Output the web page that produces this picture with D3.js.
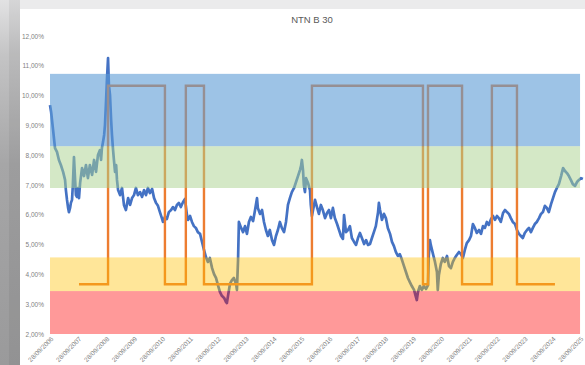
<!DOCTYPE html>
<html>
<head>
<meta charset="utf-8">
<script src="https://cdn.jsdelivr.net/npm/d3@7"></script>
<style>
  html, body { margin: 0; padding: 0; background: #fff; }
  svg { display: block; }
  text { font-family: "Liberation Sans", Arial, sans-serif; }
</style>
</head>
<body>
<svg id="chart" width="585" height="365"></svg>
<script>
// NTN-B 2030 real yield, decimal year vs percent
const rateYears = [
  2006.74,2006.78,2006.85,2006.92,2006.99,2007.06,2007.13,2007.21,2007.28,2007.31,2007.35,2007.39,2007.42,2007.46,2007.49,2007.53,
  2007.56,2007.60,2007.64,2007.67,2007.71,2007.74,2007.78,2007.82,2007.89,2007.96,2008.03,2008.10,2008.17,2008.25,2008.32,2008.39,
  2008.46,2008.53,2008.57,2008.60,2008.64,2008.68,2008.71,2008.75,2008.78,2008.82,2008.85,2008.89,2008.93,2008.96,2009.00,2009.03,
  2009.07,2009.11,2009.14,2009.18,2009.25,2009.32,2009.39,2009.46,2009.54,2009.61,2009.68,2009.75,2009.82,2009.89,2009.97,2010.04,
  2010.11,2010.18,2010.25,2010.32,2010.40,2010.47,2010.54,2010.61,2010.68,2010.75,2010.79,2010.86,2010.93,2011.00,2011.08,2011.15,
  2011.22,2011.29,2011.36,2011.43,2011.51,2011.58,2011.61,2011.65,2011.69,2011.76,2011.83,2011.90,2011.97,2012.04,2012.12,2012.19,
  2012.26,2012.33,2012.40,2012.47,2012.55,2012.62,2012.69,2012.76,2012.83,2012.90,2012.98,2013.05,2013.08,2013.12,2013.19,2013.26,
  2013.33,2013.41,2013.44,2013.48,2013.51,2013.59,2013.66,2013.73,2013.80,2013.87,2013.94,2014.02,2014.09,2014.16,2014.19,2014.27,
  2014.34,2014.41,2014.48,2014.55,2014.62,2014.70,2014.77,2014.84,2014.91,2014.98,2015.05,2015.13,2015.20,2015.27,2015.34,2015.41,
  2015.49,2015.56,2015.63,2015.70,2015.74,2015.77,2015.81,2015.84,2015.88,2015.92,2015.99,2016.06,2016.09,2016.13,2016.17,2016.24,
  2016.31,2016.38,2016.45,2016.52,2016.60,2016.67,2016.74,2016.81,2016.88,2016.95,2017.03,2017.10,2017.17,2017.24,2017.28,2017.35,
  2017.42,2017.49,2017.56,2017.64,2017.71,2017.78,2017.85,2017.92,2018.00,2018.07,2018.14,2018.21,2018.28,2018.35,2018.42,2018.50,
  2018.53,2018.57,2018.64,2018.71,2018.78,2018.85,2018.93,2019.00,2019.07,2019.14,2019.21,2019.28,2019.36,2019.43,2019.50,2019.57,
  2019.64,2019.71,2019.79,2019.86,2019.89,2019.93,2020.00,2020.07,2020.14,2020.22,2020.29,2020.32,2020.36,2020.39,2020.47,2020.54,
  2020.61,2020.64,2020.68,2020.75,2020.82,2020.89,2020.97,2021.04,2021.11,2021.18,2021.25,2021.32,2021.40,2021.47,2021.54,2021.61,
  2021.68,2021.76,2021.83,2021.90,2021.97,2022.04,2022.12,2022.19,2022.26,2022.33,2022.40,2022.47,2022.55,2022.62,2022.69,2022.76,
  2022.83,2022.90,2022.98,2023.05,2023.12,2023.19,2023.26,2023.33,2023.41,2023.48,2023.55,2023.62,2023.69,2023.76,2023.84,2023.91,
  2023.98,2024.05,2024.12,2024.19,2024.27,2024.34,2024.41,2024.48,2024.55,2024.62,2024.70,2024.77,2024.84,2024.91,2024.98,2025.06,
  2025.13,2025.20,2025.27,2025.34,2025.41,2025.48,2025.56,2025.63,2025.70,2025.77,2025.84
];
const rateValues = [
  9.68,9.45,8.85,8.24,8.11,7.84,7.67,7.44,7.17,6.83,6.50,6.23,6.09,6.23,6.40,6.50,
  7.00,7.94,7.17,6.66,6.60,6.90,6.56,7.07,7.57,7.30,7.67,7.23,7.67,7.34,7.84,7.44,
  8.01,8.17,7.84,8.24,8.44,8.68,9.01,9.85,10.52,11.26,10.36,10.02,9.18,8.68,8.17,7.84,
  7.44,7.67,7.17,6.83,6.66,6.90,6.33,6.16,6.56,6.33,6.56,6.66,6.90,6.66,6.76,6.60,
  6.83,6.66,6.90,6.73,6.87,6.56,6.40,6.30,6.09,5.89,5.76,5.93,5.86,6.09,6.16,6.26,
  6.16,6.33,6.40,6.26,6.43,6.53,6.30,5.99,5.83,5.96,5.76,5.62,5.56,5.42,5.36,5.09,
  4.82,4.58,4.42,4.55,4.21,4.01,3.88,3.64,3.41,3.28,3.21,3.07,3.04,3.28,3.68,3.81,
  3.88,3.68,3.48,4.48,5.76,5.56,5.42,5.62,5.36,5.76,5.93,5.79,6.16,6.56,6.23,6.03,
  6.16,5.76,5.49,5.29,5.49,5.15,4.99,5.29,5.49,5.76,5.56,5.42,5.76,6.33,6.56,6.76,
  6.90,7.10,7.30,7.50,7.64,7.84,7.50,7.00,6.76,7.23,7.07,6.83,6.33,5.96,6.16,6.50,
  6.26,6.03,6.33,6.16,5.89,6.06,6.16,5.89,6.23,5.89,5.69,5.49,5.29,5.19,5.99,5.42,
  5.49,5.62,5.22,5.09,4.99,5.22,5.39,5.22,5.02,5.15,4.99,5.02,5.22,5.42,5.62,6.09,
  6.40,6.16,5.83,6.03,5.89,5.56,5.36,5.09,4.95,4.75,4.62,4.68,4.48,4.28,4.08,3.88,
  3.74,3.61,3.48,3.24,3.14,3.41,3.61,3.48,3.61,3.51,3.64,4.65,5.15,4.99,4.68,4.42,
  4.08,3.48,3.98,4.35,4.55,4.42,4.62,4.28,4.21,4.42,4.55,4.65,4.75,4.68,4.55,4.82,
  5.05,5.15,5.29,5.69,5.56,5.39,5.49,5.36,5.62,5.56,5.76,5.66,5.86,5.96,5.83,5.96,
  5.89,5.76,6.06,6.16,6.09,6.03,5.89,5.76,5.69,5.49,5.36,5.29,5.22,5.39,5.49,5.56,
  5.42,5.56,5.69,5.76,5.89,6.03,6.09,6.30,6.23,6.09,6.36,6.56,6.76,6.90,7.03,7.30,
  7.57,7.47,7.40,7.30,7.17,7.03,6.97,7.10,7.17,7.23,7.20
];

// Buy/sell signal (step series): switch dates and levels
const signalYears  = [2007.78, 2008.82, 2010.86, 2011.61, 2012.26, 2016.13, 2020.11, 2020.29, 2021.51, 2022.58, 2023.48, 2024.84];
const signalValues = [3.67, 10.33, 3.67, 10.33, 3.67, 10.33, 3.67, 10.33, 3.67, 10.33, 3.67, 3.67];

// Horizontal zones: [low, high] in percent
const bandNames  = ["alta", "media-alta", "baixa", "muito-baixa"];
const bandLows   = [8.30, 6.90, 3.44, 2.00];
const bandHighs  = [10.73, 8.30, 4.57, 3.44];
const bandColors = ["#5B9BD5", "#A9D18E", "#FFC000", "#FF0000"];
const bandAlpha  = [0.6, 0.5, 0.4, 0.4];
const bandStart = 2006.74, bandEnd = 2025.74;

const yTicks = [2, 3, 4, 5, 6, 7, 8, 9, 10, 11, 12];
const yTickLabels = ["2,00%","3,00%","4,00%","5,00%","6,00%","7,00%","8,00%","9,00%","10,00%","11,00%","12,00%"];
const xTickYears = [2006,2007,2008,2009,2010,2011,2012,2013,2014,2015,2016,2017,2018,2019,2020,2021,2022,2023,2024,2025];

const chartTitle = "NTN B 30";

// decimal year -> Date (UTC)
function yearToDate(y) {
  const yr = Math.floor(y);
  const a = Date.UTC(yr, 0, 1), b = Date.UTC(yr + 1, 0, 1);
  return new Date(a + (y - yr) * (b - a));
}

const svg = d3.select("#chart");
const W = 585, H = 365;

// window chrome around the chart area
const defs = svg.append("defs");
const lg = defs.append("linearGradient").attr("id", "sideGrad").attr("x1", 0).attr("y1", 0).attr("x2", 0).attr("y2", 1);
lg.append("stop").attr("offset", "0%").attr("stop-color", "#e2e2e3");
lg.append("stop").attr("offset", "15%").attr("stop-color", "#c4c4c5");
lg.append("stop").attr("offset", "45%").attr("stop-color", "#a6a6a7");
lg.append("stop").attr("offset", "100%").attr("stop-color", "#9a9a9b");
svg.append("rect").attr("x", 0).attr("y", 0).attr("width", W).attr("height", 9).attr("fill", "#ebebec");
svg.append("rect").attr("x", 0).attr("y", 0).attr("width", 20).attr("height", H).attr("fill", "url(#sideGrad)");
svg.append("rect").attr("x", 9).attr("y", 0).attr("width", 11).attr("height", H).attr("fill", "#000").attr("opacity", 0.05);
svg.append("rect").attr("x", 20).attr("y", 9).attr("width", W - 20).attr("height", H - 9).attr("fill", "#ffffff");

const x = d3.scaleUtc()
  .domain([yearToDate(2006.74), yearToDate(2025.86)])
  .range([50, 583.4]);
const y = d3.scaleLinear().domain([2, 12]).range([334, 36]);

// title
svg.append("text")
  .attr("x", 312).attr("y", 23)
  .attr("text-anchor", "middle")
  .attr("font-size", 9.5)
  .attr("fill", "#595959")
  .text(chartTitle);

// y axis labels
const yAxis = d3.axisLeft(y)
  .tickValues(yTicks)
  .tickFormat((d, i) => yTickLabels[i])
  .tickSize(0).tickPadding(0);
const gy = svg.append("g").attr("transform", "translate(44,0)").call(yAxis);
gy.select(".domain").remove();
gy.selectAll("text").attr("font-size", 6.5).attr("fill", "#7f7f7f")
  .attr("font-family", "Liberation Sans, Arial, sans-serif");

// x axis labels, rotated
const xTickDates = xTickYears.map(yr => new Date(Date.UTC(yr, 8, 28)));
const xAxis = d3.axisBottom(x)
  .tickValues(xTickDates)
  .tickFormat(d3.utcFormat("%d/%m/%Y"))
  .tickSize(0).tickPadding(0);
const gx = svg.append("g").attr("transform", "translate(0,338)").call(xAxis);
gx.select(".domain").remove();
gx.selectAll("text")
  .attr("font-size", 6.5).attr("fill", "#7f7f7f")
  .attr("font-family", "Liberation Sans, Arial, sans-serif")
  .attr("text-anchor", "end")
  .attr("dy", "0.3em")
  .attr("transform", "translate(2,0) rotate(-45)");

// rate series
const rateData = rateYears.map((yr, i) => ({ date: yearToDate(yr), value: rateValues[i] }));
const rateLine = d3.line().x(d => x(d.date)).y(d => y(d.value)).curve(d3.curveLinear);
svg.append("path")
  .datum(rateData)
  .attr("d", rateLine)
  .attr("fill", "none")
  .attr("stroke", "#4472C4")
  .attr("stroke-width", 2.7)
  .attr("stroke-linejoin", "round");

// signal step series
const signalData = signalYears.map((yr, i) => ({ date: yearToDate(yr), value: signalValues[i] }));
const stepLine = d3.line().x(d => x(d.date)).y(d => y(d.value)).curve(d3.curveStepAfter);
svg.append("path")
  .datum(signalData)
  .attr("d", stepLine)
  .attr("fill", "none")
  .attr("stroke", "#ED7D31")
  .attr("stroke-width", 2.4);

// translucent zones drawn over the lines
svg.append("g").selectAll("rect")
  .data(bandNames)
  .join("rect")
  .attr("x", x(yearToDate(bandStart)))
  .attr("width", x(yearToDate(bandEnd)) - x(yearToDate(bandStart)))
  .attr("y", (d, i) => y(bandHighs[i]))
  .attr("height", (d, i) => y(bandLows[i]) - y(bandHighs[i]))
  .attr("fill", (d, i) => bandColors[i])
  .attr("fill-opacity", (d, i) => bandAlpha[i]);
</script>
</body>
</html>
